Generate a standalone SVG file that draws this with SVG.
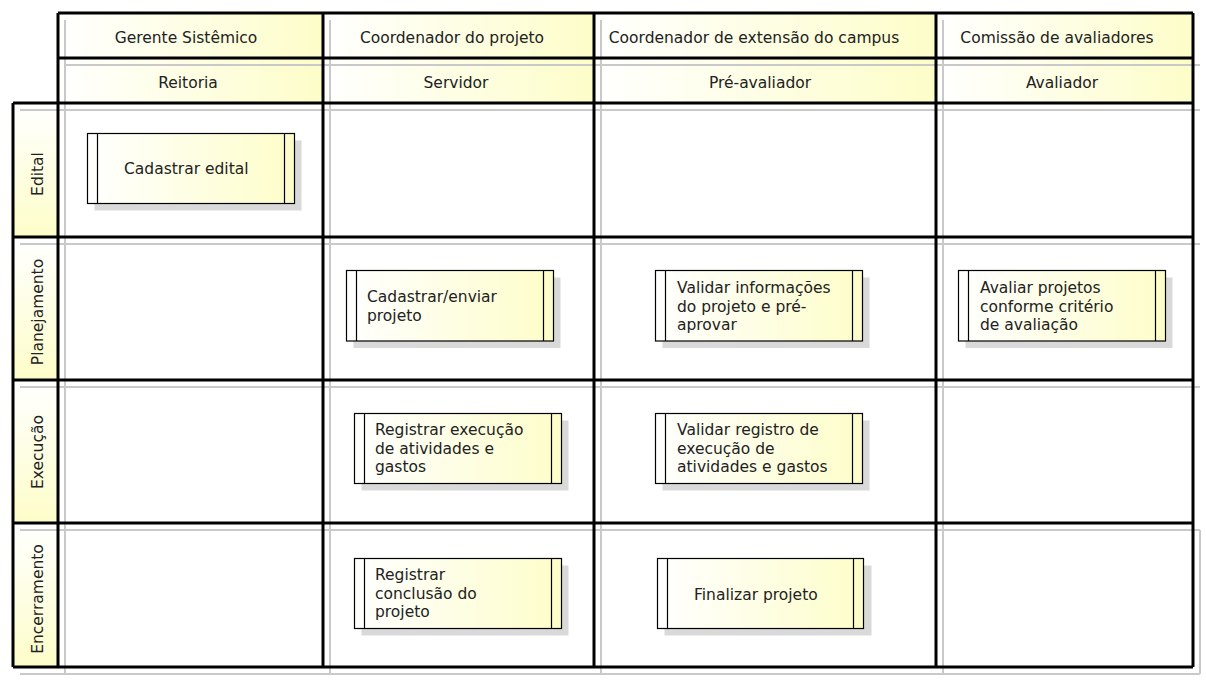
<svg xmlns="http://www.w3.org/2000/svg" width="1206" height="681" viewBox="0 0 1206 681">
<defs>
<linearGradient id="gh" x1="0" y1="0" x2="1" y2="0"><stop offset="0" stop-color="#ffffff"/><stop offset="1" stop-color="#fdfdc9"/></linearGradient>
<linearGradient id="gv" x1="0" y1="0" x2="0" y2="1"><stop offset="0" stop-color="#ffffff"/><stop offset="1" stop-color="#fdfdc9"/></linearGradient>
<linearGradient id="gb" x1="0" y1="0" x2="1" y2="0"><stop offset="0" stop-color="#ffffff"/><stop offset="1" stop-color="#fdfdc9"/></linearGradient>
</defs>
<style>
text{font-family:"DejaVu Sans","Liberation Sans",sans-serif;font-size:15.5px;fill:#222}
.hc{text-anchor:middle}
.hdr{fill:url(#gh)}
.lab{fill:url(#gv)}
.sh{stroke:#c9c9c9;stroke-width:2;fill:none}
.bl{stroke:#000;stroke-width:3;fill:none}
.bsh{fill:#d9d9d9}
.box{fill:url(#gb);stroke:#000;stroke-width:1.2}
.in{stroke:#000;stroke-width:1.2}
</style>
<rect width="1206" height="681" fill="#fff"/>
<g id="headers">
<rect class="hdr" x="58" y="13" width="265" height="45"/>
<rect class="hdr" x="323" y="13" width="271" height="45"/>
<rect class="hdr" x="594" y="13" width="342" height="45"/>
<rect class="hdr" x="936" y="13" width="257" height="45"/>
<rect class="hdr" x="58" y="58" width="265" height="45"/>
<rect class="hdr" x="323" y="58" width="271" height="45"/>
<rect class="hdr" x="594" y="58" width="342" height="45"/>
<rect class="hdr" x="936" y="58" width="257" height="45"/>
</g>
<g id="lanes">
<rect class="lab" x="13" y="103" width="45" height="134"/>
<rect class="lab" x="13" y="237" width="45" height="143"/>
<rect class="lab" x="13" y="380" width="45" height="143"/>
<rect class="lab" x="13" y="523" width="45" height="144"/>
</g>
<g id="shadows">
<path class="sh" d="M65 20V674M330 20V674M601 20V674M943 20V674M1200 530V674M65 65H1200M20 110H1200M20 244H1200M20 387H1200M20 530H1200M20 674H1200"/>
</g>
<g id="grid">
<path class="bl" d="M58 13H1193M58 58H1193M13 103H1193M13 237H1193M13 380H1193M13 523H1193M13 667H1193M13 103V667M58 13V667M323 13V667M594 13V667M936 13V667M1193 13V667"/>
</g>
<g id="header-text">
<text class="hc" x="186" y="43">Gerente Sistêmico</text>
<text class="hc" x="452" y="43">Coordenador do projeto</text>
<text class="hc" x="754" y="43">Coordenador de extensão do campus</text>
<text class="hc" x="1057" y="43">Comissão de avaliadores</text>
<text class="hc" x="188" y="88">Reitoria</text>
<text class="hc" x="456" y="88">Servidor</text>
<text class="hc" x="760" y="88">Pré-avaliador</text>
<text class="hc" x="1062" y="88">Avaliador</text>
</g>
<g id="lane-text">
<text class="hc" transform="translate(43 174) rotate(-90)">Edital</text>
<text class="hc" transform="translate(43 312) rotate(-90)">Planejamento</text>
<text class="hc" transform="translate(43 452) rotate(-90)">Execução</text>
<text class="hc" transform="translate(43 599) rotate(-90)">Encerramento</text>
</g>
<g id="connectors"/>
<g id="n-cadastrar-edital">
<rect class="bsh" x="94.5" y="140.5" width="207" height="70"/>
<rect class="box" x="87.5" y="133.5" width="207" height="70"/>
<path class="in" d="M97.5 133.5V203.5M284.5 133.5V203.5"/>
<text x="124" y="174">Cadastrar edital</text>
</g>
<g id="n-cadastrar-enviar">
<rect class="bsh" x="353.5" y="277.5" width="207" height="70.5"/>
<rect class="box" x="346.5" y="270.5" width="207" height="70.5"/>
<path class="in" d="M356.5 270.5V341M543.5 270.5V341"/>
<text x="367" y="302">Cadastrar/enviar</text>
<text x="367" y="321">projeto</text>
</g>
<g id="n-validar-info">
<rect class="bsh" x="662.5" y="277.5" width="207" height="70.5"/>
<rect class="box" x="655.5" y="270.5" width="207" height="70.5"/>
<path class="in" d="M665.5 270.5V341M852.5 270.5V341"/>
<text x="677" y="293">Validar informações</text>
<text x="677" y="311.5">do projeto e pré-</text>
<text x="677" y="330">aprovar</text>
</g>
<g id="n-avaliar">
<rect class="bsh" x="965.5" y="277.5" width="207" height="70.5"/>
<rect class="box" x="958.5" y="270.5" width="207" height="70.5"/>
<path class="in" d="M968.5 270.5V341M1155.5 270.5V341"/>
<text x="980" y="293">Avaliar projetos</text>
<text x="980" y="311.5">conforme critério</text>
<text x="980" y="330">de avaliação</text>
</g>
<g id="n-registrar-execucao">
<rect class="bsh" x="361.5" y="420.5" width="207" height="70"/>
<rect class="box" x="354.5" y="413.5" width="207" height="70"/>
<path class="in" d="M364.5 413.5V483.5M551.5 413.5V483.5"/>
<text x="375" y="435">Registrar execução</text>
<text x="375" y="453.5">de atividades e</text>
<text x="375" y="472">gastos</text>
</g>
<g id="n-validar-registro">
<rect class="bsh" x="662.5" y="420.5" width="207" height="70"/>
<rect class="box" x="655.5" y="413.5" width="207" height="70"/>
<path class="in" d="M665.5 413.5V483.5M852.5 413.5V483.5"/>
<text x="677" y="435">Validar registro de</text>
<text x="677" y="453.5">execução de</text>
<text x="677" y="472">atividades e gastos</text>
</g>
<g id="n-registrar-conclusao">
<rect class="bsh" x="361.5" y="565.5" width="207" height="70"/>
<rect class="box" x="354.5" y="558.5" width="207" height="70"/>
<path class="in" d="M364.5 558.5V628.5M551.5 558.5V628.5"/>
<text x="375" y="580">Registrar</text>
<text x="375" y="598.5">conclusão do</text>
<text x="375" y="617">projeto</text>
</g>
<g id="n-finalizar">
<rect class="bsh" x="664.5" y="565.5" width="207" height="70"/>
<rect class="box" x="657.5" y="558.5" width="206" height="70"/>
<path class="in" d="M667.5 558.5V628.5M853.5 558.5V628.5"/>
<text x="694" y="600">Finalizar projeto</text>
</g>
</svg>
